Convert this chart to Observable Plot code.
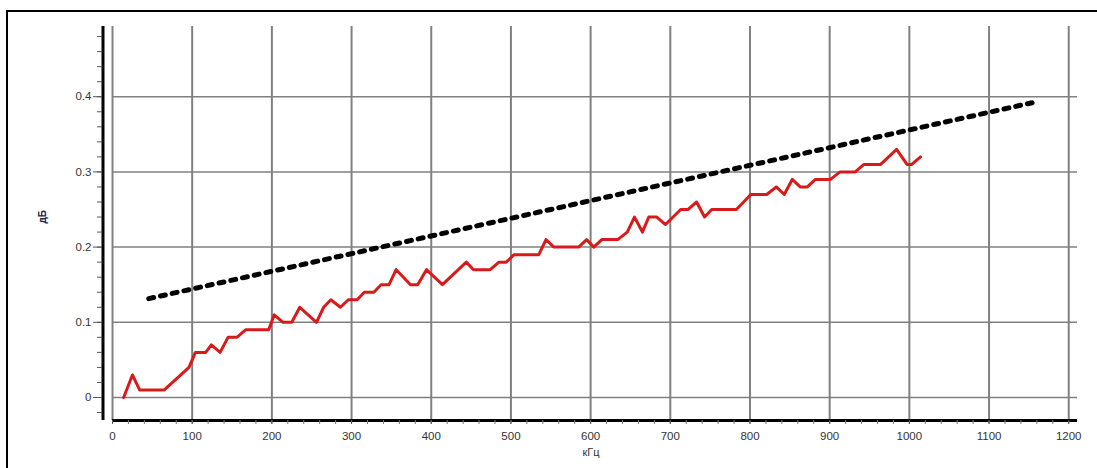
<!DOCTYPE html>
<html><head><meta charset="utf-8">
<script src="https://cdn.jsdelivr.net/npm/d3@7"></script>
<script src="https://cdn.jsdelivr.net/npm/@observablehq/plot@0.6"></script>
<style>
body{margin:0;background:#fff;}
#wrap{position:relative;width:1097px;height:468px;overflow:hidden;background:#fff;}
#frame{position:absolute;left:6px;top:10px;width:1200px;height:600px;border-left:2px solid #000;border-top:2px solid #000;}
#chart{position:absolute;left:0;top:0;}
</style></head><body>
<div id="wrap"><div id="frame"></div><div id="chart"></div></div>
<script>
// measured attenuation (red line): frequency in kHz, loss in dB
const freqKHz = [14,25,34,65,96,104,117,124,135,145,156,167,196,203,214,225,235,256,265,274,286,296,307,316,328,337,347,356,374,383,394,414,444,453,474,485,494,504,535,544,554,585,595,604,614,634,646,655,665,673,683,694,713,722,733,743,752,783,801,821,833,843,853,863,872,882,901,913,932,943,964,984,997,1003,1014];
const lossDb  = [0,0.03,0.01,0.01,0.04,0.06,0.06,0.07,0.06,0.08,0.08,0.09,0.09,0.11,0.10,0.10,0.12,0.10,0.12,0.13,0.12,0.13,0.13,0.14,0.14,0.15,0.15,0.17,0.15,0.15,0.17,0.15,0.18,0.17,0.17,0.18,0.18,0.19,0.19,0.21,0.20,0.20,0.21,0.20,0.21,0.21,0.22,0.24,0.22,0.24,0.24,0.23,0.25,0.25,0.26,0.24,0.25,0.25,0.27,0.27,0.28,0.27,0.29,0.28,0.28,0.29,0.29,0.30,0.30,0.31,0.31,0.33,0.31,0.31,0.32];
// dotted trend line
const trendFreq = [45.5, 1154];
const trendDb = [0.1315, 0.392];
// axes
const xTicks = [0,100,200,300,400,500,600,700,800,900,1000,1100,1200];
const yTicks = [0,0.1,0.2,0.3,0.4];
const yTickLabels = ["0","0.1","0.2","0.3","0.4"];
const xMinor = d3.range(0, 1211, 20);
const yMinor = d3.range(-0.02, 0.49, 0.02).map(v => +v.toFixed(2));
const xLabel = "кГц";
const yLabel = "дБ";
const xDomain = [0, 1211];
const yDomain = [-0.0306, 0.4934];

const measured = freqKHz.map((f, i) => ({f, db: lossDb[i]}));
const trend = trendFreq.map((f, i) => ({f, db: trendDb[i]}));

const chart = Plot.plot({
  width: 1097, height: 468,
  marginLeft: 112, marginRight: 20, marginTop: 26, marginBottom: 48,
  x: {domain: xDomain, axis: null, label: null},
  y: {domain: yDomain, axis: null, label: null},
  style: {background: "transparent", fontFamily: "'Liberation Sans', Arial, sans-serif"},
  marks: [
    Plot.ruleX(xTicks, {stroke: "#808080", strokeWidth: 2}),
    Plot.ruleY(yTicks, {stroke: "#808080", strokeWidth: 1.5}),
    Plot.ruleX([xDomain[0]], {dx: -9.5, stroke: "#000", strokeWidth: 3}),
    Plot.ruleY([yDomain[0]], {stroke: "#000", strokeWidth: 3}),
    Plot.axisY(yMinor, {anchor: "left", label: null, tickSize: 5, dx: -10, tickFormat: () => "", stroke: "#555"}),
    Plot.axisY(yTicks, {anchor: "left", label: null, tickSize: 9, tickPadding: 2, dx: -10, fontSize: 11.5, fill: "#333", stroke: "#555",
      tickFormat: (d) => yTickLabels[yTicks.indexOf(d)]}),
    Plot.axisX(xMinor, {anchor: "bottom", label: null, tickSize: 4, tickFormat: () => "", stroke: "#777"}),
    Plot.axisX(xTicks, {anchor: "bottom", label: null, tickSize: 4, tickPadding: 7, fontSize: 11.5, fill: "#333", stroke: "#555", tickFormat: d => String(d)}),
    Plot.text([xLabel], {frameAnchor: "bottom", dx: -4, dy: 35, fontSize: 11, fill: "#333"}),
    Plot.text([yLabel], {frameAnchor: "left", dx: -70, rotate: -90, fontSize: 10, fontWeight: "bold", fill: "#222244"}),
    Plot.line(trend, {x: "f", y: "db", stroke: "#000", strokeWidth: 5, strokeDasharray: "5,7"}),
    Plot.line(measured, {x: "f", y: "db", stroke: "#d91a1a", strokeWidth: 3, strokeLinejoin: "round"})
  ]
});
document.getElementById("chart").appendChild(chart);
</script>
</body></html>
